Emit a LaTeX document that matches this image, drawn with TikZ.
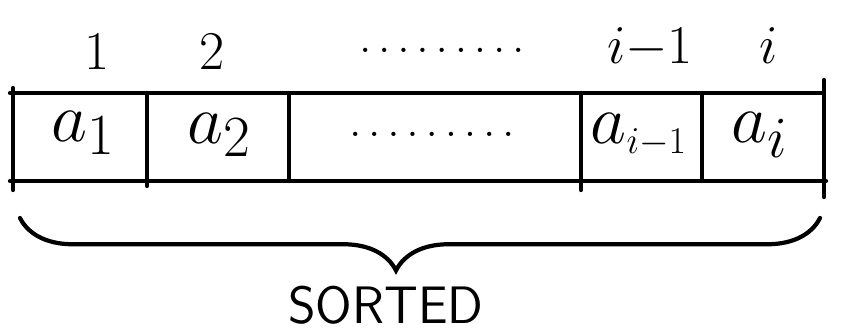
\documentclass[tikz,border=0pt]{standalone}
\usepackage{graphicx}
\usepackage{tikz}
\usetikzlibrary{decorations.pathreplacing,positioning}
\tikzset{
  stroke/.style={line width=2.4pt, line cap=round},
  idx/.style={font=\Huge, scale=1.25},
  gap/.style={font=\Huge},
  cell/.style={font=\Huge, scale=1.6},
  tag/.style={font=\sffamily\fontsize{30}{30}\selectfont},
}

\begin{document}
\begin{tikzpicture}[x=0.02cm,y=-0.02cm]
\useasboundingbox (0,0) rectangle (841,334);
% the array
\draw[stroke] (10,93) -- (822,93);
\draw[stroke] (10,181) -- (826,181);
\draw[stroke] (13,88) -- (13,190);
\draw[stroke] (147,93) -- (147,186);
\draw[stroke] (289,93) -- (289,181);
\draw[stroke] (581,93) -- (581,190);
\draw[stroke] (702,93) -- (702,181);
\draw[stroke] (824,80) -- (824,197);
% indices
\node[idx] (i1) at (97,52) {$1$};
\node[idx] (i2) at (212,52) {$2$};
\node[gap] (idots) at (442,50) {$\dots\dots\dots$};
\node[idx] (iprev) at (650,48) {$i{-}1$};
\node[idx] (ilast) at (769,46) {$i$};
% elements
\node[cell] (a1) at (84,133) {$a_1$};
\node[cell] (a2) at (220,135) {$a_2$};
\node[gap] (adots) at (432,134) {$\dots\dots\dots$};
\node[cell] (aprev) at (639,135) {$a_{\scalebox{0.65}{$\scriptstyle i-1$}}$};
\node[cell] (alast) at (760,135) {$a_i$};
% brace
\coordinate (bl) at (20,218);
\coordinate (br) at (820,218);
\draw[stroke, decorate, decoration={brace, mirror, amplitude=1.05cm, aspect=0.47}] (bl) -- (br);
\node[tag] (sorted) at (386,305) {SORTED};
\end{tikzpicture}
\end{document}
